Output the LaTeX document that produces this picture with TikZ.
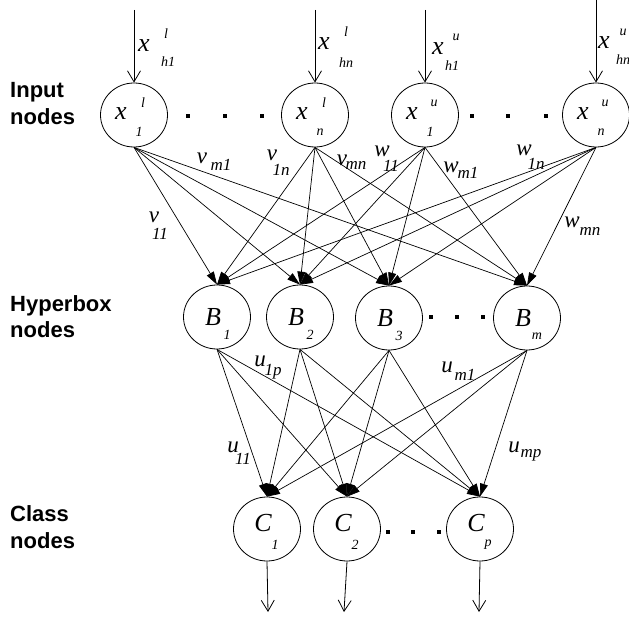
\documentclass[tikz,border=0pt]{standalone}
\usepackage{fontspec}
\setmainfont{Liberation Serif}
\newfontfamily\lsans{Liberation Sans}
\usetikzlibrary{arrows.meta,shapes.geometric}
\begin{document}
\begin{tikzpicture}[x=1pt,y=-1pt,
  neuron/.style={ellipse, draw, line width=0.8pt, minimum width=67pt, minimum height=64pt, inner sep=0pt},
  inarrow/.style={-{Straight Barb[length=11pt,width=13pt]}, line width=0.8pt},
  conn/.style={-{Triangle[length=13pt,width=8pt]}, line width=0.7pt},
  big/.style={font=\fontsize{26}{26}\selectfont\itshape, inner sep=0pt},
  sml/.style={font=\fontsize{14}{14}\selectfont\itshape, inner sep=0pt},
  elab/.style={font=\fontsize{23}{23}\selectfont\itshape, inner sep=0pt},
  esub/.style={font=\fontsize{17}{17}\selectfont\itshape, inner sep=0pt},
  layer/.style={font=\fontsize{22}{22}\selectfont\lsans\bfseries, anchor=base west, inner sep=0pt},
  dotmark/.style={fill, rectangle, minimum size=4pt, inner sep=0pt}
]
\useasboundingbox (0,0) rectangle (629,617);

% layer labels
\node[layer] (L1a) at (10,98) {Input};
\node[layer] (L1b) at (10,125) {nodes};
\node[layer] (L2a) at (10,312) {Hyperbox};
\node[layer] (L2b) at (10,338) {nodes};
\node[layer] (L3a) at (10,521) {Class};
\node[layer] (L3b) at (10,548) {nodes};

% neurons
\node[neuron] (xl1) at (134,115) {};
\node[neuron] (xln) at (315,115) {};
\node[neuron] (xu1) at (425,115) {};
\node[neuron] (xun) at (596,115) {};
\node[neuron] (B1) at (217,317) {};
\node[neuron] (B2) at (300,317) {};
\node[neuron] (B3) at (389,318) {};
\node[neuron] (Bm) at (527,318) {};
\node[neuron] (C1) at (267,529) {};
\node[neuron] (C2) at (347,529) {};
\node[neuron] (Cp) at (480,529) {};

% neuron labels
\foreach \n/\s/\b in {xl1/l/1, xln/l/n, xu1/u/1, xun/u/n}{
  \node[big] (\n-m) at ([shift={(-13,-1)}]\n.center) {x};
  \node[sml] (\n-p) at ([shift={(9,-12)}]\n.center) {\s};
  \node[sml] (\n-b) at ([shift={(5,17)}]\n.center) {\b};
}
\foreach \n/\b in {B1/1, B2/2, B3/3, Bm/m}{
  \node[big] (\n-m) at ([shift={(-4,0)}]\n.center) {B};
  \node[sml] (\n-b) at ([shift={(10,18)}]\n.center) {\b};
}
\foreach \n/\b in {C1/1, C2/2, Cp/p}{
  \node[big] (\n-m) at ([shift={(-4,-6)}]\n.center) {C};
  \node[sml] (\n-b) at ([shift={(8,16)}]\n.center) {\b};
}

% dots
\foreach \i/\x/\y in {1/188/116, 2/225/116, 3/262/116, 4/472/116, 5/508/116, 6/546/116,
                      7/431/317, 8/457/317, 9/483/317, 10/388/532, 11/413/532, 12/439/532}{
  \node[dotmark] (d\i) at (\x,\y) {};
}

% input arrows
\coordinate (t1) at (134,10);
\coordinate (t2) at (315,10);
\coordinate (t3) at (425,10);
\coordinate (t4) at (596,0);
\draw[inarrow] (t1) -- (xl1.north);
\draw[inarrow] (t2) -- (xln.north);
\draw[inarrow] (t3) -- (xu1.north);
\draw[inarrow] (t4) -- (xun.north);

% input arrow labels
\node[big] (a1m) at (144,46) {x};
\node[sml] (a1p) at (166,34) {l};
\node[sml] (a1b) at (168,62) {h1};
\node[big] (a2m) at (324,44) {x};
\node[sml] (a2p) at (346,32) {l};
\node[sml] (a2b) at (346,63) {hn};
\node[big] (a3m) at (438,49) {x};
\node[sml] (a3p) at (456,37) {u};
\node[sml] (a3b) at (452,66) {h1};
\node[big] (a4m) at (604,43) {x};
\node[sml] (a4p) at (623,32) {u};
\node[sml] (a4b) at (623,60) {hn};

% input -> hyperbox
\foreach \s in {xl1, xln, xu1, xun}{
  \foreach \t in {B1, B2, B3, Bm}{
    \draw[conn] (\s.south) -- (\t.north);
  }
}
% hyperbox -> class
\foreach \s in {B1, B2, B3, Bm}{
  \foreach \t in {C1, C2, Cp}{
    \draw[conn] (\s.south) -- (\t.north);
  }
}

% outputs
\coordinate (o1) at (268,612);
\coordinate (o2) at (344,612);
\coordinate (o3) at (479,612);
\draw[inarrow] (C1.south) -- (o1);
\draw[inarrow] (C2.south) -- (o2);
\draw[inarrow] (Cp.south) -- (o3);

% edge labels
\node[elab] (v11m) at (154,217) {v};  \node[esub] (v11s) at (160,234) {11};
\node[elab] (vm1m) at (202,158) {v};  \node[esub] (vm1s) at (221,165) {m1};
\node[elab] (v1nm) at (272,155) {v};  \node[esub] (v1ns) at (281,170) {1n};
\node[elab] (vmnm) at (342,160) {v};  \node[esub] (vmns) at (356,165) {mn};
\node[elab] (w11m) at (382,151) {w};  \node[esub] (w11s) at (391,166) {11};
\node[elab] (wm1m) at (451,167) {w};  \node[esub] (wm1s) at (468,173) {m1};
\node[elab] (w1nm) at (524,150) {w};  \node[esub] (w1ns) at (536,164) {1n};
\node[elab] (wmnm) at (572,222) {w};  \node[esub] (wmns) at (590,231) {mn};
\node[elab] (u1pm) at (260,361) {u};  \node[esub] (u1ps) at (273,372) {1p};
\node[elab] (um1m) at (447,367) {u};  \node[esub] (um1s) at (465,375) {m1};
\node[elab] (u11m) at (233,447) {u};  \node[esub] (u11s) at (243,459) {11};
\node[elab] (umpm) at (514,447) {u};  \node[esub] (umps) at (531,455) {mp};
\end{tikzpicture}
\end{document}
